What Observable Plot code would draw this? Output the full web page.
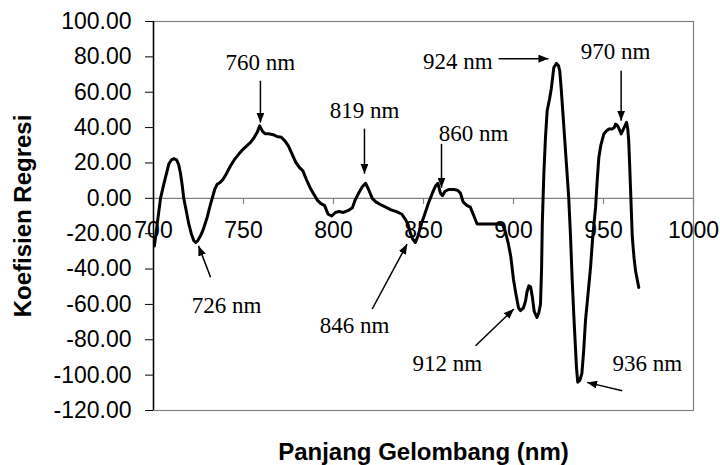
<!DOCTYPE html>
<html><head><meta charset="utf-8">
<script src="https://cdn.jsdelivr.net/npm/d3@7"></script>
<script src="https://cdn.jsdelivr.net/npm/@observablehq/plot@0.6"></script>
<style>body{margin:0;background:#fff} svg{display:block}</style>
</head><body><div id="chart"></div>
<script>
// Series: regression coefficient by wavelength (nm)
const wavelength = [700.5,702,703.9,705.5,706.7,708.5,710,711.3,712.8,714,715,716,716.8,718,719.6,721,722.4,723.5,724.5,726,727.5,729.8,731.5,732.6,734,735.4,737,738.5,740,742.8,745,747.4,750,753.9,756,757.6,759,760.5,762,764,766.5,768.5,771,773,775,777,779,781,783,785,787,789,791,793,795,797,799,801,803,805.5,808,810.5,812,814,816,817.8,819.5,821.5,823.5,826,829,832,835,838,840,841.5,842.8,844,845.5,847,849,851,853,854.8,856.7,858,859.4,860.5,862,864,867,869,870.5,872,874,876,878,879.8,885,891,894,895.5,897,898.5,900,901.5,902.8,903.9,905.5,906.7,907.5,908.5,909.5,910.5,911.5,913,914,915,915.6,916,916.9,917.8,918.7,920,921,922.4,923.9,925,925.7,926.5,928,929.5,930.7,931.7,932.6,933.5,934.4,935,935.7,936.8,938,939,940,941.5,942.8,944,945.6,946.5,947.4,948.5,950.2,951.5,953,954.8,956,956.7,957.5,958.5,959.8,961,962.8,963.5,964,964.5,965,965.5,966,967,967.8,969.6];
const coefficient = [-27,-15,0,7,12,19.4,21.8,22.4,21.8,19,14,7,0,-6,-14.5,-20,-24,-25,-24,-21.5,-18,-10.8,-4,0,5,8,9,10.5,13,18.4,22,25,28,31.6,34.5,37.3,41,38,36.5,36.5,36,35,34.5,32.5,29.5,25,20.5,17.5,15.5,10.5,6,2.5,-1,-3,-4,-9,-10,-8,-7.5,-8,-7,-5.3,-1,3,6.5,8.5,5,0,-2,-3.5,-5,-6.5,-7.5,-9,-12,-15,-20,-23,-25,-21,-14,-8,-2,2.6,7,8.5,3,1.5,4,5,5,4.5,3,-2,-4,-5,-10,-14.5,-14.5,-14.5,-15,-19,-25,-33,-46,-55,-62,-63.5,-62,-58,-53,-49.5,-50,-56,-64,-67.4,-65,-60,-40,-14,15,35,49.5,56,62,74,76.3,75,72,62,40,18,0,-22,-46,-66,-84,-96,-104,-103,-99,-86,-69,-53,-39,-22,-5,10,23,30,36.4,38,39.2,39.2,40,42,41.5,39.8,36.4,39,43,39,32.6,20,6,-8,-22,-34,-41,-50.4];

const xTicks = [700, 750, 800, 850, 900, 950, 1000];
const yTicks = [-120, -100, -80, -60, -40, -20, 0, 20, 40, 60, 80, 100];

// Peak annotations (data units)
const peakLabels = ["760 nm", "819 nm", "860 nm", "924 nm", "970 nm", "726 nm", "846 nm", "912 nm", "936 nm"];
const labelX = [759.4, 817.2, 877.8, 869, 956.7, 740.6, 811.7, 863.2, 974.3];
const labelY = [76.7, 49.5, 36.5, 77.2, 82.9, -60.7, -72.2, -93.3, -93.3];
const arrowX1 = [759.4, 817.2, 860, 891.7, 959.8, 731.7, 821.5, 878.9, 960.4];
const arrowY1 = [66.5, 39.4, 30.8, 79, 72.2, -44.7, -62.6, -83.4, -108.8];
const arrowX2 = [759.4, 817.2, 860, 919.4, 959.8, 725, 840.9, 900.2, 940.9];
const arrowY2 = [42.8, 13.9, 6, 79, 43.9, -26.8, -25.9, -62.6, -104.1];

const series = wavelength.map((w, i) => ({w, c: coefficient[i]}));
const notes = peakLabels.map((t, i) => ({t, x: labelX[i], y: labelY[i], x1: arrowX1[i], y1: arrowY1[i], x2: arrowX2[i], y2: arrowY2[i]}));

const sans = "'Liberation Sans', Arial, sans-serif";
const serif = "'Liberation Serif', 'Times New Roman', serif";

function headMarker(color, context) {
  const doc = context.document;
  const ns = "http://www.w3.org/2000/svg";
  const m = doc.createElementNS(ns, "marker");
  m.setAttribute("viewBox", "0 -4 10 8");
  m.setAttribute("refX", "10");
  m.setAttribute("refY", "0");
  m.setAttribute("markerWidth", "10");
  m.setAttribute("markerHeight", "8");
  m.setAttribute("markerUnits", "userSpaceOnUse");
  m.setAttribute("orient", "auto");
  const p = doc.createElementNS(ns, "path");
  p.setAttribute("d", "M0,-4L10,0L0,4Z");
  p.setAttribute("fill", color);
  p.setAttribute("stroke", "none");
  m.appendChild(p);
  return m;
}

const chart = Plot.plot({
  width: 720,
  height: 465,
  marginLeft: 153,
  marginRight: 27,
  marginTop: 21,
  marginBottom: 55,
  style: {fontFamily: sans, background: "#fff"},
  x: {domain: [700, 1000], axis: null},
  y: {domain: [-120, 100], axis: null},
  marks: [
    Plot.frame({stroke: "#808080", strokeWidth: 1.2}),
    Plot.ruleY([0], {stroke: "#808080", strokeWidth: 1.2}),
    Plot.ruleX(xTicks, {x: d => d, y1: 0, y2: -3.4, stroke: "#808080", strokeWidth: 1.2}),
    Plot.text(xTicks, {x: d => d, y: 0, dy: 32, text: d => String(d), fontSize: 23, fontFamily: sans, fill: "#000"}),
    Plot.axisY({ticks: yTicks, tickSize: 8, tickPadding: 14, tickFormat: d => d.toFixed(2), fontSize: 23, fontFamily: sans, stroke: "#000", fill: "#000", label: null}),
    Plot.ruleX([700], {stroke: "#000", strokeWidth: 1.5}),
    Plot.line(series, {x: "w", y: "c", stroke: "#000", strokeWidth: 3, strokeLinejoin: "round", strokeLinecap: "round"}),
    Plot.link(notes, {x1: "x1", y1: "y1", x2: "x2", y2: "y2", stroke: "#000", strokeWidth: 1.5, markerEnd: headMarker}),
    Plot.text(notes, {x: "x", y: "y", text: "t", fontSize: 23, fontFamily: serif, fill: "#000"}),
    Plot.text(["Koefisien Regresi"], {frameAnchor: "left", dx: -130, rotate: -90, textAnchor: "middle", lineAnchor: "middle", fontSize: 24, fontWeight: "bold", fontFamily: sans, fill: "#000"}),
    Plot.text(["Panjang Gelombang (nm)"], {frameAnchor: "bottom", dy: 42, textAnchor: "middle", lineAnchor: "middle", fontSize: 24, fontWeight: "bold", fontFamily: sans, fill: "#000"})
  ]
});
document.getElementById("chart").appendChild(chart);
</script>
</body></html>
